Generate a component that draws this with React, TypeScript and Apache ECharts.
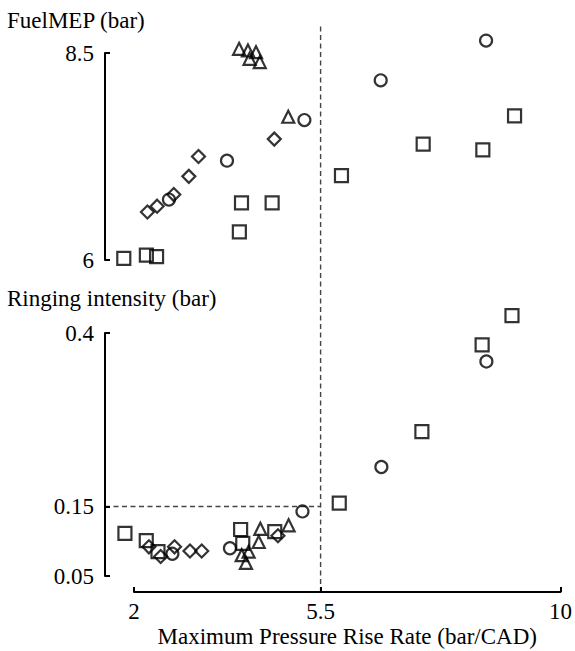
import React, { useEffect, useRef } from "react";
import * as echarts from "echarts";

// ---- Data ----
// Top panel: FuelMEP (bar)
const squareTopX = [1.81, 2.23, 2.42, 3.96, 4.0, 4.57, 5.86, 7.38, 8.49, 9.08];
const squareTopY = [6.02, 6.06, 6.04, 6.34, 6.69, 6.69, 7.02, 7.4, 7.33, 7.74];
const circleTopX = [2.65, 3.73, 5.17, 6.59, 8.55];
const circleTopY = [6.73, 7.2, 7.69, 8.17, 8.65];
const diamondTopX = [2.25, 2.43, 2.74, 3.02, 3.2, 4.61];
const diamondTopY = [6.58, 6.65, 6.79, 7.01, 7.25, 7.46];
const triangleTopX = [3.955, 4.12, 4.27, 4.15, 4.34, 4.87];
const triangleTopY = [8.55, 8.53, 8.51, 8.43, 8.39, 7.73];

// Bottom panel: Ringing intensity (bar)
const squareBotX = [1.83, 2.23, 2.45, 4.0, 4.04, 4.64, 5.85, 7.4, 8.53, 9.09];
const squareBotY = [0.1115, 0.101, 0.085, 0.117, 0.097, 0.114, 0.155, 0.258, 0.383, 0.425];
const circleBotX = [2.72, 3.8, 5.16, 6.64, 8.61];
const circleBotY = [0.082, 0.09, 0.143, 0.207, 0.359];
const diamondBotX = [2.28, 2.5, 2.76, 3.05, 3.27, 4.7];
const diamondBotY = [0.092, 0.078, 0.092, 0.086, 0.086, 0.108];
const triangleBotX = [4.02, 4.1, 4.15, 4.34, 4.37, 4.9];
const triangleBotY = [0.08, 0.069, 0.085, 0.099, 0.118, 0.123];

// Axes
const xTicks = [2, 5.5, 10];
const xRange = [2, 10];
const topYTicks = [6, 8.5];
const topYRange = [6, 8.5];
const botYTicks = [0.05, 0.15, 0.4];
const botYRange = [0.05, 0.4];

// Reference lines
const limitX = 5.5;
const limitY = 0.15;
const limitTopY = 8.82;

const xTitle = "Maximum Pressure Rise Rate (bar/CAD)";
const topTitle = "FuelMEP (bar)";
const botTitle = "Ringing intensity (bar)";

const FONT = "Liberation Serif";
const FS = 23;
const Y_OFFSET = 29;
const X_OFFSET = 16;

const zip = (xs: number[], ys: number[]) => xs.map((x, i) => [x, ys[i]]);

const fmt = (v: number) => String(Number(Number(v).toPrecision(6)));

export default function App() {
  const ref = useRef<HTMLDivElement>(null);
  useEffect(() => {
    if (!ref.current) return;
    const chart = echarts.init(ref.current, undefined, { renderer: "svg" });

    const markerStyle = {
      color: "rgba(0,0,0,0)",
      borderColor: "#000",
      borderWidth: 2.2,
    };
    const mk = (
      name: string,
      symbol: string,
      size: number,
      xs: number[],
      ys: number[],
      idx: number
    ) => ({
      name,
      type: "scatter",
      xAxisIndex: idx,
      yAxisIndex: idx,
      symbol,
      symbolSize: size,
      clip: false,
      itemStyle: markerStyle,
      data: zip(xs, ys),
    });

    const yAxisCommon = (range: number[], ticks: number[], grid: number) => ({
      type: "value",
      gridIndex: grid,
      min: range[0],
      max: range[1],
      offset: Y_OFFSET,
      splitLine: { show: false },
      axisLine: { show: true, lineStyle: { color: "#000", width: 2 } },
      axisTick: {
        show: true,
        inside: true,
        length: 5,
        customValues: ticks,
        lineStyle: { color: "#000", width: 2 },
      },
      axisLabel: {
        customValues: ticks,
        margin: 11,
        color: "#000",
        fontFamily: FONT,
        fontSize: FS,
        formatter: (v: number) => fmt(v),
      },
    });

    chart.setOption({
      animation: false,
      backgroundColor: "#fff",
      textStyle: { fontFamily: FONT },
      grid: [
        { left: 134, right: 11, top: 53, height: 207 },
        { left: 134, right: 11, top: 333, height: 243 },
      ],
      xAxis: [
        { type: "value", gridIndex: 0, min: xRange[0], max: xRange[1], show: false },
        {
          type: "value",
          gridIndex: 1,
          min: xRange[0],
          max: xRange[1],
          offset: X_OFFSET,
          splitLine: { show: false },
          axisLine: { show: true, onZero: false, lineStyle: { color: "#000", width: 2 } },
          axisTick: {
            show: true,
            inside: true,
            length: 5,
            customValues: xTicks,
            lineStyle: { color: "#000", width: 2 },
          },
          axisLabel: {
            customValues: xTicks,
            margin: 8,
            color: "#000",
            fontFamily: FONT,
            fontSize: FS,
            formatter: (v: number) => fmt(v),
          },
          name: xTitle,
          nameLocation: "middle",
          nameGap: 33,
          nameTextStyle: { color: "#000", fontFamily: FONT, fontSize: FS },
        },
      ],
      yAxis: [yAxisCommon(topYRange, topYTicks, 0), yAxisCommon(botYRange, botYTicks, 1)],
      series: [
        mk("sq-top", "rect", 13, squareTopX, squareTopY, 0),
        mk("ci-top", "circle", 12, circleTopX, circleTopY, 0),
        mk("di-top", "diamond", 13, diamondTopX, diamondTopY, 0),
        mk("tr-top", "triangle", 12, triangleTopX, triangleTopY, 0),
        mk("sq-bot", "rect", 13, squareBotX, squareBotY, 1),
        mk("ci-bot", "circle", 12, circleBotX, circleBotY, 1),
        mk("di-bot", "diamond", 13, diamondBotX, diamondBotY, 1),
        mk("tr-bot", "triangle", 12, triangleBotX, triangleBotY, 1),
      ],
    });

    const px55 = chart.convertToPixel({ xAxisIndex: 1 }, limitX) as number;
    const pxAxisY = (chart.convertToPixel({ xAxisIndex: 1 }, xRange[0]) as number) - Y_OFFSET;
    const pyTop = chart.convertToPixel({ yAxisIndex: 0 }, limitTopY) as number;
    const pyBottom = (chart.convertToPixel({ yAxisIndex: 1 }, botYRange[0]) as number) + X_OFFSET;
    const py015 = chart.convertToPixel({ yAxisIndex: 1 }, limitY) as number;

    const dashStyle = { stroke: "#444", lineWidth: 1.4, lineDash: [5, 3.5] };

    chart.setOption({
      graphic: [
        {
          type: "line",
          shape: { x1: px55, y1: pyTop, x2: px55, y2: pyBottom },
          style: dashStyle,
          silent: true,
        },
        {
          type: "line",
          shape: { x1: pxAxisY, y1: py015, x2: px55, y2: py015 },
          style: dashStyle,
          silent: true,
        },
        {
          type: "text",
          x: 7,
          y: 20,
          style: {
            text: topTitle,
            fill: "#000",
            font: `${FS}px ${FONT}`,
            verticalAlign: "middle",
          },
        },
        {
          type: "text",
          x: 7,
          y: 298,
          style: {
            text: botTitle,
            fill: "#000",
            font: `${FS}px ${FONT}`,
            verticalAlign: "middle",
          },
        },
      ],
    });

    return () => chart.dispose();
  }, []);

  return <div ref={ref} style={{ width: 575, height: 651, position: "absolute", left: 0, top: 0 }} />;
}
